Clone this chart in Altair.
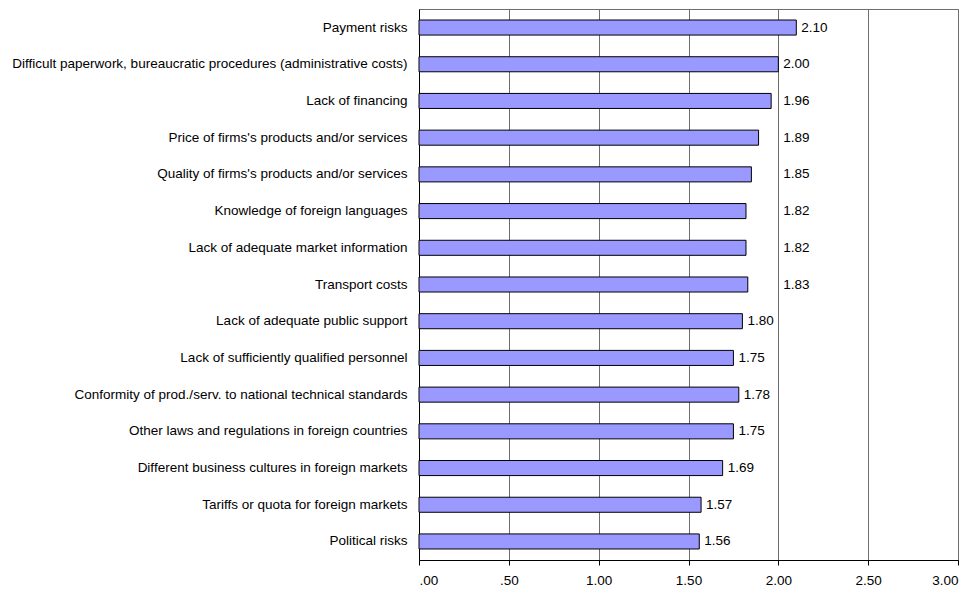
import altair as alt
import pandas as pd

categories = [
    "Payment risks",
    "Difficult paperwork, bureaucratic procedures (administrative costs)",
    "Lack of financing",
    "Price of firms's products and/or services",
    "Quality of firms's products and/or services",
    "Knowledge of foreign languages",
    "Lack of adequate market information",
    "Transport costs",
    "Lack of adequate public support",
    "Lack of sufficiently qualified personnel",
    "Conformity of prod./serv. to national technical standards",
    "Other laws and regulations in foreign countries",
    "Different business cultures in foreign markets",
    "Tariffs or quota for foreign markets",
    "Political risks",
]
values = [2.10, 2.00, 1.96, 1.89, 1.85, 1.82, 1.82, 1.83, 1.80, 1.75, 1.78, 1.75, 1.69, 1.57, 1.56]
x_ticks = [0, 0.5, 1.0, 1.5, 2.0, 2.5, 3.0]

df = pd.DataFrame({"category": categories, "value": values})

FONT = "Liberation Sans"
FS = 13.5

y_enc = alt.Y("category:N", sort=categories, title=None,
              scale=alt.Scale(paddingInner=0.59, paddingOuter=0.3),
              axis=alt.Axis(labelFont=FONT, labelFontSize=FS, labelColor="#000",
                            labelPadding=12, ticks=False, domainColor="#000",
                            labelLimit=500))

x_scale = alt.Scale(domain=[0, 3], nice=False)

bars = alt.Chart(df).mark_bar(color="#9999FF", stroke="#000", strokeWidth=1).encode(
    x=alt.X("value:Q", scale=x_scale, title=None,
            axis=alt.Axis(values=x_ticks, grid=True, gridColor="#6e6e6e", gridWidth=1,
                          domainColor="#000", tickColor="#000", tickSize=5,
                          labelFont=FONT, labelFontSize=FS, labelColor="#000",
                          labelPadding=8,
                          labelExpr="datum.value == 0 ? '.00' : datum.value == 0.5 ? '.50' : format(datum.value, '.2f')")),
    y=y_enc,
)

labels = alt.Chart(df).transform_calculate(
    lx="datum.value > 1.81 && datum.value < 2.0 ? 2.0 : datum.value",
    txt="format(datum.value, '.2f')",
).mark_text(align="left", baseline="middle", dx=5, font=FONT, fontSize=FS, color="#000").encode(
    x=alt.X("lx:Q", scale=x_scale),
    y=alt.Y("category:N", sort=categories),
    text="txt:N",
)

chart = alt.layer(bars, labels).properties(
    width=539, height=551,
    padding={"left": 3, "top": 1, "right": 0, "bottom": 0},
).configure_view(stroke="#6e6e6e", strokeWidth=1)

chart.save("out.html", embed_options={"renderer": "svg", "actions": False})
